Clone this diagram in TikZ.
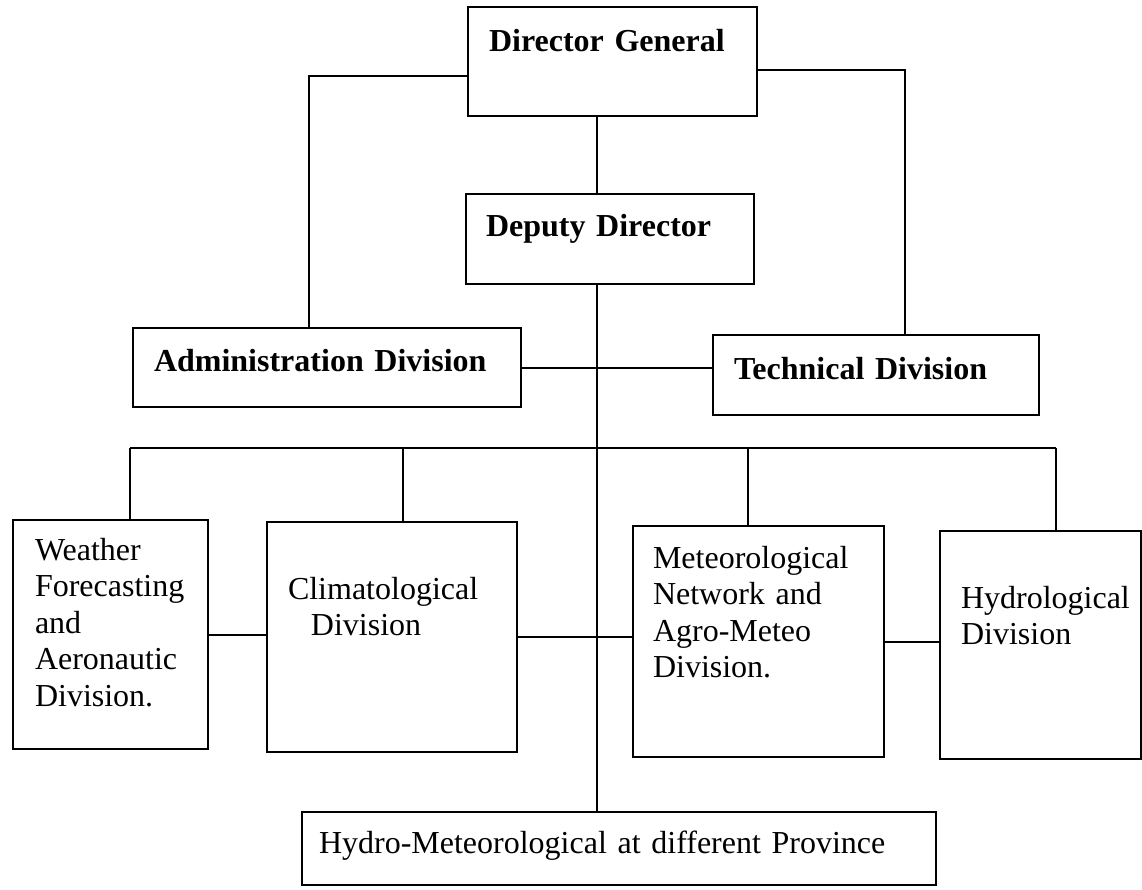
\documentclass[tikz,border=0pt]{standalone}
\usepackage{fontspec}
\setmainfont{Liberation Serif}
\newlength{\unitpx}
\setlength{\unitpx}{0.375pt}
\begin{document}
\begin{tikzpicture}[x=0.375pt,y=-0.375pt,line width=0.75pt,
    box/.style n args={4}{draw,anchor=north west,inner ysep=0pt,align=left,
      inner xsep=#1\unitpx,text width=#2\unitpx,text height=#3\unitpx,text depth=#4\unitpx,
      font=\fontsize{12}{13.7}\selectfont},
    head/.style={font=\fontsize{12}{13.7}\selectfont\bfseries}]
    \useasboundingbox (0,0) rectangle (1142,889);
    \node[box={21}{247}{44}{65},head] (dg) at (467,6) {Director General};
    \node[box={20}{248}{42}{48},head] (deputy) at (465,193) {Deputy Director};
    \node[box={21}{346}{43}{36},head] (admin) at (132,327) {Administration Division};
    \node[box={21}{284}{44}{36},head] (tech) at (712,334) {Technical Division};
    \node[box={22}{151}{40}{189}] (weather) at (12,519) {Weather\\Forecasting\\and\\Aeronautic\\Division.};
    \node[box={21}{208}{77}{153}] (clim) at (266,521) {Climatological\\\hspace*{8.6pt}Division};
    \node[box={20}{211}{42}{189}] (meteo) at (632,525) {Meteorological\\Network and\\Agro-Meteo\\Division.};
    \node[box={21}{159}{77}{151}] (hydro) at (939,530) {Hydrological\\Division};
    \node[box={17}{600}{41}{32}] (hydromet) at (301,811) {Hydro-Meteorological at different Province};
    \coordinate (spine) at (597,0);
    \coordinate (admup) at (309,76);
    \coordinate (techup) at (905,70);
    \coordinate (wfdrop) at (130,448);
    \coordinate (cldrop) at (403,448);
    \coordinate (mndrop) at (748,448);
    \coordinate (hddrop) at (1056,448);
    \draw (admup -| dg.west) -- (admup) -- (admup |- admin.north);
    \draw (techup -| dg.east) -- (techup) -- (techup |- tech.north);
    \draw (dg.south -| spine) -- (deputy.north -| spine);
    \draw (deputy.south -| spine) -- (hydromet.north -| spine);
    \draw (admin.east) -- (admin.east -| tech.west);
    \draw (wfdrop) -- (hddrop);
    \draw (wfdrop) -- (wfdrop |- weather.north);
    \draw (cldrop) -- (cldrop |- clim.north);
    \draw (mndrop) -- (mndrop |- meteo.north);
    \draw (hddrop) -- (hddrop |- hydro.north);
    \draw (weather.east) -- (weather.east -| clim.west);
    \draw (clim.east) -- (clim.east -| meteo.west);
    \draw (meteo.east) -- (meteo.east -| hydro.west);
\end{tikzpicture}
\end{document}
